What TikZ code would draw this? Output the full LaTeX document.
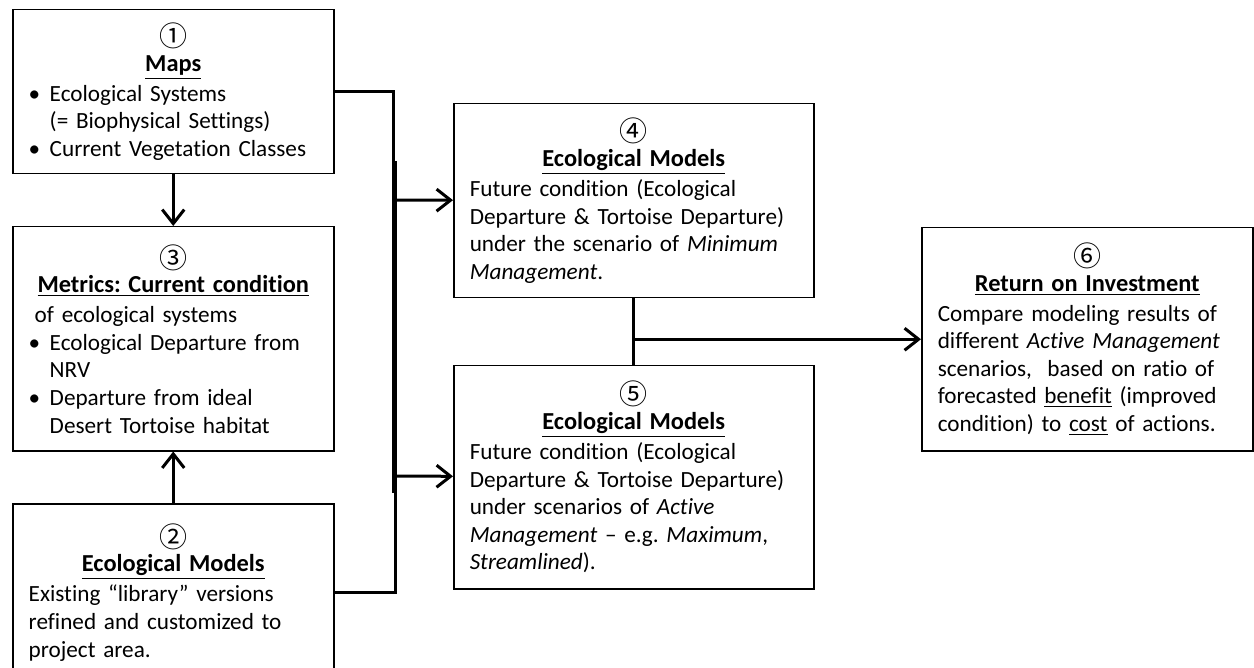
\documentclass[tikz,border=0pt]{standalone}
\usepackage{fontspec}
\usepackage{tikz}
\usetikzlibrary{arrows.meta}
\setmainfont{Carlito}[Ligatures=NoCommon]
\newfontfamily\circfont{Noto Sans CJK JP}
\frenchspacing

\newcommand{\boxhead}[2]{{\centering{\circfont\fontsize{14pt}{14pt}\selectfont #1}\\[-1.5pt]{\fontsize{12.2pt}{14pt}\selectfont\textbf{\underline{#2}}}\par}\vspace{1.2pt}}
\newcommand{\bitem}[1]{\par\noindent\makebox[10.5pt][l]{•}\mbox{#1}}
\newcommand{\bnext}[1]{\par\noindent\hspace*{10.5pt}\mbox{#1}}

\tikzset{
  procbox/.style={draw, line width=0.75pt, anchor=north west, inner xsep=8pt, inner ysep=0pt,
    align=left, font=\fontsize{11.6pt}{13.8pt}\selectfont},
  flow/.style={line width=1.5pt, -{Straight Barb[length=7pt,width=11pt]}},
  link/.style={line width=1.5pt}
}

\begin{document}
\begin{tikzpicture}[x=0.5pt, y=-0.5pt]
  \useasboundingbox (0,0) rectangle (1254,668);

  % left column
  \node[procbox, text width=144.5pt, minimum height=82pt] (maps) at (12,9) {%
    \boxhead{①}{Maps}
    \bitem{Ecological Systems}
    \bnext{(= Biophysical Settings)}
    \bitem{Current Vegetation Classes}};
  \node[procbox, text width=144.5pt, minimum height=112pt] (metrics) at (12,226) {%
    \boxhead{③}{Metrics: Current condition}
    \noindent\hspace{3pt}of ecological systems
    \bitem{Ecological Departure from}
    \bnext{NRV}
    \bitem{Departure from ideal}
    \bnext{Desert Tortoise habitat}};
  \node[procbox, text width=144.5pt, minimum height=88.5pt] (library) at (12,503) {%
    \boxhead{②}{Ecological Models}
    \noindent Existing “library” versions\\refined and customized to\\project area.};

  % middle column
  \node[procbox, text width=164pt, minimum height=97pt] (minimum) at (453,103) {%
    \boxhead{④}{Ecological Models}
    \noindent Future condition (Ecological\\Departure \& Tortoise Departure)\\under the scenario of \textit{Minimum}\\\textit{Management}.};
  \node[procbox, text width=164pt, minimum height=111.5pt] (active) at (453,365) {%
    \boxhead{⑤}{Ecological Models}
    \noindent Future condition (Ecological\\Departure \& Tortoise Departure)\\under scenarios of \textit{Active}\\\textit{Management} – e.g. \textit{Maximum},\\\textit{Streamlined}).};

  % right column
  \node[procbox, text width=149.5pt, minimum height=111.5pt] (roi) at (921,227) {%
    \boxhead{⑥}{Return on Investment}
    \noindent Compare modeling results of\\different \textit{Active Management}\\scenarios,\ \ based on ratio of\\forecasted \underline{benefit} (improved\\condition) to \underline{cost} of actions.};

  % bus joints
  \coordinate (busup) at (395,161);
  \coordinate (busdown) at (393,493);
  \coordinate (tominimum) at (393,200);
  \coordinate (toactive) at (393,476);

  \draw[flow] (maps) -- (metrics);
  \draw[flow] (library) -- (metrics);
  \draw[link] (maps.east) -| (busdown);
  \draw[link] (library.east) -| (busup);
  \draw[flow] (tominimum) -- (minimum);
  \draw[flow] (toactive) -- (active);

  % both scenarios feed the ROI box
  \draw[link] (minimum) -- (active);
  \draw[flow] (minimum.south |- roi.west) -- (roi);
\end{tikzpicture}
\end{document}
